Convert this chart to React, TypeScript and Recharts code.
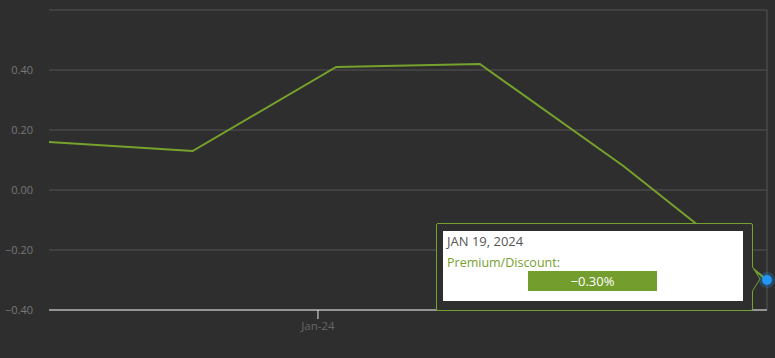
import React from "react";
import { LineChart, Line, XAxis, YAxis, CartesianGrid, Tooltip, ReferenceLine } from "recharts";

const dates = ["DEC 15, 2023", "DEC 22, 2023", "DEC 29, 2023", "JAN 5, 2024", "JAN 12, 2024", "JAN 19, 2024"];
const premiumDiscount = [0.16, 0.13, 0.41, 0.42, 0.08, -0.3];
const yTicks = [-0.4, -0.2, 0, 0.2, 0.4, 0.6];
const xTickPositions = [1.873];
const xTickLabels = ["Jan-24"];

const data = dates.map((d, i) => ({ idx: i, date: d, value: premiumDiscount[i] }));

const FONT = "'Open Sans', 'DejaVu Sans', sans-serif";

const TooltipBox = (props: any) => {
  const { active, payload } = props;
  if (!active || !payload || !payload.length) return null;
  const p = payload[0].payload;
  const w = 325;
  const h = 88;
  return (
    <div style={{ position: "relative", width: w, height: h, fontFamily: FONT }}>
      <svg width={w} height={h} style={{ position: "absolute", left: 0, top: 0, overflow: "visible" }}>
        <path
          d={`M2,0.5 H${w - 10} Q${w - 8.5},0.5 ${w - 8.5},2 V${44} L${w - 1},${56} L${w - 8.5},${68} V${h - 2} Q${w - 8.5},${h - 0.5} ${w - 10},${h - 0.5} H2 Q0.5,${h - 0.5} 0.5,${h - 2} V2 Q0.5,0.5 2,0.5 Z`}
          fill="#2e2e2e"
          stroke="#76a02f"
          strokeWidth={1}
        />
      </svg>
      <div
        style={{
          position: "absolute",
          left: 7,
          top: 8,
          width: 300,
          height: 70,
          background: "#ffffff",
        }}
      >
        <div style={{ position: "absolute", left: 4, top: 1, fontSize: 13, color: "#555555" }}>{p.date}</div>
        <div style={{ position: "absolute", left: 4, top: 23, fontSize: 12.5, color: "#76a02f" }}>Premium/Discount:</div>
        <div
          style={{
            position: "absolute",
            left: 85,
            top: 40,
            width: 129,
            height: 20,
            background: "#739e2e",
            color: "#ffffff",
            fontSize: 13,
            textAlign: "center",
            lineHeight: "20px",
          }}
        >
          {p.value.toFixed(2).replace("-", "\u2212")}%
        </div>
      </div>
    </div>
  );
};

const ActiveDot = (props: any) => {
  const { cx, cy } = props;
  return (
    <g>
      <circle cx={cx} cy={cy} r={8} fill="rgba(33,150,243,0.25)" />
      <circle cx={cx} cy={cy} r={5} fill="#2196f3" />
    </g>
  );
};

export default function App() {
  return (
    <div style={{ position: "fixed", left: 0, top: 0, width: 775, height: 358, background: "#2e2e2e" }}>
      <LineChart
        width={775}
        height={358}
        data={data}
        margin={{ top: 10, right: 8, bottom: 0, left: 0 }}
      >
        <CartesianGrid horizontal vertical={false} stroke="#555555" strokeWidth={1} />
        <XAxis
          dataKey="idx"
          type="number"
          domain={[0, 5]}
          ticks={xTickPositions}
          tickFormatter={(v: number) => xTickLabels[xTickPositions.indexOf(v)] ?? ""}
          axisLine={{ stroke: "#e8e8e8" }}
          tickLine={{ stroke: "#e8e8e8" }}
          tickSize={9}
          tick={{ fill: "#666666", fontSize: 11.5, fontFamily: FONT, dy: 1 }}
          height={48}
        />
        <YAxis
          type="number"
          domain={[-0.4, 0.6]}
          ticks={yTicks}
          tickFormatter={(v: number) => (v >= 0.6 ? "" : v.toFixed(2).replace("-", "\u2212"))}
          axisLine={false}
          tickLine={false}
          tick={{ fill: "#777777", fontSize: 11, fontFamily: FONT }}
          width={49}
          tickMargin={10}
        />
        <ReferenceLine x={5} stroke="#555555" />
        <Tooltip
          defaultIndex={5}
          active
          cursor={false}
          position={{ x: 436, y: 223 }}
          content={<TooltipBox />}
          isAnimationActive={false}
          wrapperStyle={{ outline: "none" }}
        />
        <Line
          type="linear"
          dataKey="value"
          stroke="#76a22c"
          strokeWidth={2}
          dot={false}
          activeDot={<ActiveDot />}
          isAnimationActive={false}
        />
      </LineChart>
    </div>
  );
}
